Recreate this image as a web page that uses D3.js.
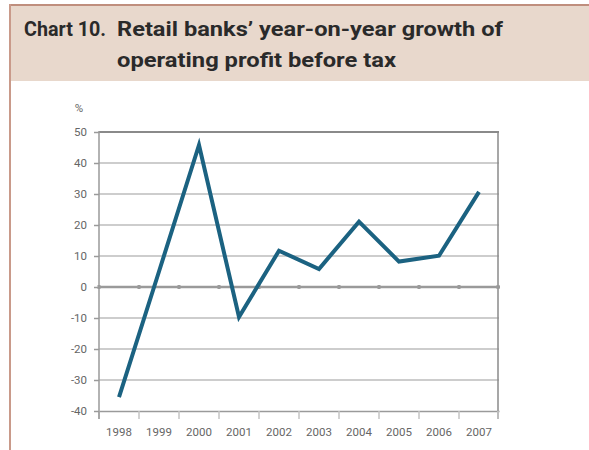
<!DOCTYPE html>
<html>
<head>
<meta charset="utf-8">
<script src="https://cdn.jsdelivr.net/npm/d3@7"></script>
<style>
  html, body { margin: 0; padding: 0; background: #fff; }
  svg { display: block; }
</style>
</head>
<body>
<svg id="chart" width="589" height="450"></svg>
<script>
// Year-on-year growth of retail banks' operating profit before tax (%)
const years = ["1998", "1999", "2000", "2001", "2002", "2003", "2004", "2005", "2006", "2007"];
const growth = [-35.5, 5, 45.8, -9.7, 11.7, 5.8, 21.1, 8.2, 10.1, 30.7];
const yTicks = [-40, -30, -20, -10, 0, 10, 20, 30, 40, 50];
const titleLines = ["Retail banks’ year-on-year growth of", "operating profit before tax"];
const chartNo = "Chart 10.";

(function draw() {
  const svg = d3.select("#chart");
  const W = 589, H = 450;

  // Header panel
  svg.append("rect").attr("x", 10).attr("y", 5).attr("width", W - 10).attr("height", 76)
    .attr("fill", "#e8d8cc");
  svg.append("line").attr("x1", 9).attr("x2", W).attr("y1", 5).attr("y2", 5)
    .attr("stroke", "#bf8e7d").attr("stroke-width", 2);
  svg.append("line").attr("x1", 10).attr("x2", 10).attr("y1", 4).attr("y2", H)
    .attr("stroke", "#c99a8a").attr("stroke-width", 2);

  const titleFont = "Roboto, 'DejaVu Sans', sans-serif";
  svg.append("text").attr("x", 24).attr("y", 36).text(chartNo)
    .attr("font-family", titleFont).attr("font-weight", "bold").attr("font-size", 21)
    .attr("textLength", 82).attr("lengthAdjust", "spacingAndGlyphs")
    .attr("fill", "#2a2a2a");
  const titleWidths = [386, 279];
  svg.selectAll("text.title").data(titleLines).join("text").attr("class", "title")
    .attr("x", 117).attr("y", (d, i) => 36 + i * 31).text(d => d)
    .attr("font-family", titleFont).attr("font-weight", "bold").attr("font-size", 21)
    .attr("textLength", (d, i) => titleWidths[i]).attr("lengthAdjust", "spacingAndGlyphs")
    .attr("fill", "#2a2a2a");

  // Plot area
  const pLeft = 99, pRight = 499, pTop = 132, pBottom = 411;
  const x = d3.scaleBand().domain(years).range([pLeft, pRight]).paddingInner(0).paddingOuter(0);
  const y = d3.scaleLinear().domain([-40, 50]).range([pBottom, pTop]);

  const g = svg.append("g");
  const labelFont = "Roboto, 'DejaVu Sans', sans-serif";

  // Horizontal gridlines
  g.selectAll("line.grid").data(yTicks.filter(v => v !== 0 && v !== 50 && v !== -40)).join("line")
    .attr("class", "grid")
    .attr("x1", pLeft).attr("x2", pRight).attr("y1", d => y(d)).attr("y2", d => y(d))
    .attr("stroke", "#bdbdbd").attr("stroke-width", 1.5);

  // Frame: top and right edges
  g.append("line").attr("x1", pLeft).attr("x2", pRight).attr("y1", y(50)).attr("y2", y(50))
    .attr("stroke", "#8a8a8a").attr("stroke-width", 2);
  g.append("line").attr("x1", pRight - 1).attr("x2", pRight - 1).attr("y1", y(50) - 1).attr("y2", pBottom + 8)
    .attr("stroke", "#8a8a8a").attr("stroke-width", 1.5);

  // Bottom axis, ticks at band boundaries
  const xAxis = d3.axisBottom(x).tickSize(0).tickPadding(0);
  const xg = g.append("g").attr("transform", `translate(0,${pBottom})`).call(xAxis);
  xg.select(".domain").attr("stroke", "#9a9a9a").attr("stroke-width", 1.5);
  xg.selectAll(".tick text").attr("y", 25).attr("dy", 0).attr("font-family", labelFont)
    .attr("font-size", 11.5).attr("fill", "#666");
  const bounds = years.map(d => x(d)).concat([pRight - 1]);
  g.selectAll("line.xtick").data(bounds).join("line").attr("class", "xtick")
    .attr("x1", d => d).attr("x2", d => d).attr("y1", pBottom).attr("y2", pBottom + 8)
    .attr("stroke", "#c4c4c4").attr("stroke-width", 1.5);

  // Left axis
  const yAxis = d3.axisLeft(y).tickValues(yTicks).tickSize(5).tickPadding(7)
    .tickFormat(d => String(d));
  const yg = g.append("g").attr("transform", `translate(${pLeft},0)`).call(yAxis);
  yg.select(".domain").remove();
  yg.selectAll(".tick line").attr("stroke", "#9a9a9a").attr("stroke-width", 1.5);
  yg.selectAll(".tick text").attr("font-family", labelFont).attr("font-size", 11.5).attr("fill", "#666");
  g.append("line").attr("x1", pLeft).attr("x2", pLeft).attr("y1", pTop - 1).attr("y2", pBottom + 8)
    .attr("stroke", "#9a9a9a").attr("stroke-width", 1.5);
  svg.append("text").attr("x", 79).attr("y", 112).text("%")
    .attr("font-family", labelFont).attr("font-size", 11.5).attr("fill", "#666")
    .attr("text-anchor", "middle");

  // Zero line with small markers at band boundaries
  g.append("line").attr("x1", pLeft).attr("x2", pRight + 1).attr("y1", y(0)).attr("y2", y(0))
    .attr("stroke", "#9a9a9a").attr("stroke-width", 2.5);
  g.selectAll("rect.zmark").data(bounds).join("rect").attr("class", "zmark")
    .attr("x", d => d - 1.5).attr("y", y(0) - 2).attr("width", 3).attr("height", 4)
    .attr("fill", "#9a9a9a");

  // Series line
  const line = d3.line()
    .x((d, i) => x(years[i]) + x.bandwidth() / 2)
    .y(d => y(d));
  g.append("path").datum(growth).attr("d", line)
    .attr("fill", "none").attr("stroke", "#1b6281").attr("stroke-width", 4)
    .attr("stroke-linejoin", "miter").attr("stroke-miterlimit", 10);
})();
</script>
</body>
</html>
